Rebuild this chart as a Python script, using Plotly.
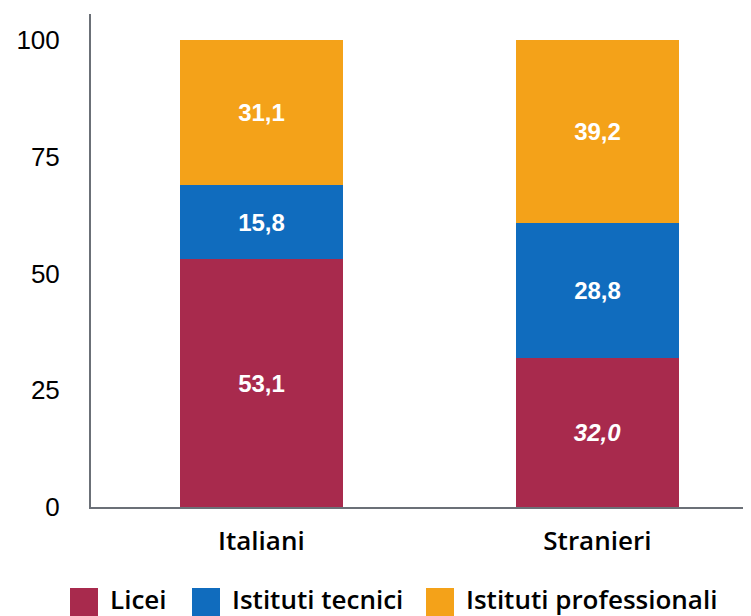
import plotly.graph_objects as go

# Dati
categorie = ["Italiani", "Stranieri"]
serie = ["Licei", "Istituti tecnici", "Istituti professionali"]
licei = [53.1, 32.0]
tecnici = [15.8, 28.8]
professionali = [31.1, 39.2]
valori = [licei, tecnici, professionali]
colori = ["#A82A4D", "#106CBE", "#F4A219"]
y_ticks = [0, 25, 50, 75, 100]

# la pagina html ha 8px di margine nel body
OFF = 8
W, H = 751, 616
L, T = 91 - OFF, 14 - OFF
B = H - (507 - OFF)
R = 0
PW, PH = W - L - R, H - T - B


def etichetta(v, corsivo=False):
    s = f"{v:.1f}".replace(".", ",")
    s = f"<b>{s}</b>"
    return f"<i>{s}</i>" if corsivo else s


def px_x(x):
    return (x - OFF - L) / PW


def px_y(y):
    return (T + PH - (y - OFF)) / PH


fig = go.Figure()
for nome, vals, col in zip(serie, valori, colori):
    testi = [etichetta(v, corsivo=(nome == "Licei" and c == "Stranieri"))
             for v, c in zip(vals, categorie)]
    fig.add_trace(go.Bar(
        x=categorie, y=vals, name=nome, marker=dict(color=col, line=dict(width=0)),
        width=0.485, text=testi, textposition="inside", insidetextanchor="middle",
        textfont=dict(family="Liberation Sans", size=24, color="white"),
        showlegend=False,
    ))

# legenda disegnata a mano (quadrati grandi)
leg_x = [70, 192, 426]
leg_w = 28
for nome, col, x0 in zip(serie, colori, leg_x):
    fig.add_shape(type="rect", xref="paper", yref="paper",
                  x0=px_x(x0), x1=px_x(x0 + leg_w),
                  y0=px_y(588), y1=px_y(616),
                  fillcolor=col, line=dict(width=0))
    fig.add_annotation(text=nome, xref="paper", yref="paper",
                       x=px_x(x0 + leg_w + 10), y=px_y(599),
                       xanchor="left", yanchor="middle", showarrow=False,
                       font=dict(family="Open Sans", size=26, weight=600, color="black"))

fig.update_layout(
    barmode="stack",
    width=W, height=H,
    margin=dict(l=L, r=R, t=T, b=B, pad=0),
    plot_bgcolor="white", paper_bgcolor="white",
    bargap=0,
    xaxis=dict(range=[-0.507, -0.507 + PW / 336], showline=True, linecolor="#6B7077",
               linewidth=2, ticks="", showgrid=False, ticklabelstandoff=10,
               tickfont=dict(family="Open Sans", size=26, weight=600, color="black")),
    yaxis=dict(range=[0, 105.6], tickvals=y_ticks, showline=True, linecolor="#6B7077",
               linewidth=2, ticks="", showgrid=False, zeroline=False,
               ticklabelstandoff=24,
               tickfont=dict(family="Liberation Sans", size=26, color="black")),
)

fig.write_html("out.html")
